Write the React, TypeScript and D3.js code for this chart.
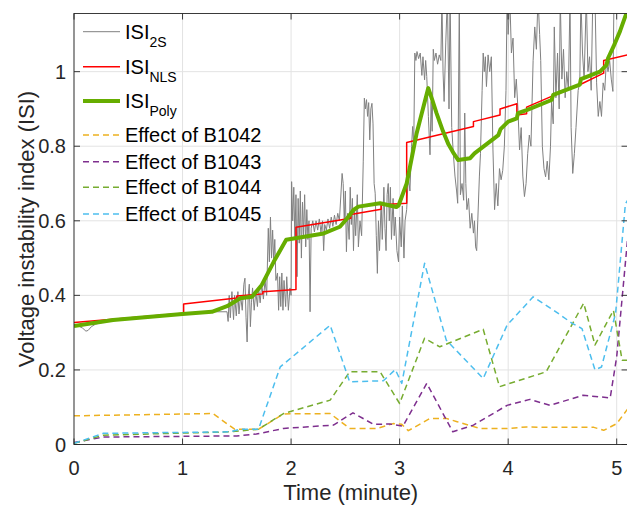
import React from 'react';
import * as d3 from 'd3';

type P = [number, number];

const X_TICKS = [0, 1, 2, 3, 4, 5];
const Y_TICKS = [0, 0.2, 0.4, 0.6, 0.8, 1];
const Y_TICK_LABELS = ['0', '0.2', '0.4', '0.6', '0.8', '1'];

const ISI_2S: P[] = [
  [0, 0.322], [0.04, 0.318], [0.08, 0.312], [0.11, 0.304], [0.13, 0.306], [0.16, 0.316], [0.2, 0.323], [0.3, 0.33],
  [0.5, 0.336], [0.8, 0.344], [1.0, 0.349], [1.2, 0.354], [1.3, 0.356], [1.41, 0.356],
  [1.42, 0.33], [1.43, 0.4], [1.44, 0.34], [1.455, 0.41], [1.47, 0.335], [1.48, 0.4], [1.495, 0.345], [1.51, 0.41],
  [1.52, 0.35], [1.535, 0.4], [1.55, 0.36], [1.565, 0.43], [1.575, 0.446], [1.585, 0.34], [1.595, 0.275], [1.605, 0.4],
  [1.615, 0.43], [1.625, 0.316], [1.635, 0.38],
  [1.645, 0.42], [1.66, 0.36], [1.675, 0.41], [1.69, 0.37], [1.7, 0.42], [1.715, 0.38], [1.73, 0.43], [1.745, 0.39],
  [1.76, 0.44], [1.775, 0.4], [1.79, 0.58], [1.8, 0.49], [1.81, 0.61], [1.82, 0.5], [1.83, 0.575], [1.84, 0.49],
  [1.85, 0.55], [1.86, 0.44],
  [1.875, 0.46], [1.885, 0.36], [1.895, 0.45], [1.905, 0.37], [1.915, 0.46], [1.925, 0.36], [1.935, 0.44], [1.95, 0.37],
  [1.96, 0.45], [1.975, 0.36], [1.99, 0.42], [2.0, 0.4],
  [2.005, 0.705], [2.015, 0.6], [2.025, 0.69], [2.035, 0.55], [2.045, 0.67], [2.055, 0.45], [2.065, 0.66], [2.075, 0.54],
  [2.085, 0.68], [2.095, 0.5], [2.105, 0.65], [2.115, 0.56], [2.125, 0.67], [2.135, 0.53], [2.145, 0.63], [2.155, 0.55],
  [2.165, 0.6], [2.175, 0.356], [2.185, 0.58],
  [2.2, 0.6], [2.215, 0.57], [2.23, 0.6], [2.245, 0.575], [2.26, 0.605], [2.275, 0.57], [2.29, 0.6], [2.3, 0.52],
  [2.31, 0.59], [2.325, 0.575], [2.34, 0.605], [2.355, 0.58], [2.37, 0.61], [2.385, 0.585], [2.4, 0.615], [2.415, 0.59],
  [2.43, 0.62], [2.445, 0.6],
  [2.47, 0.727], [2.48, 0.7], [2.49, 0.6], [2.5, 0.68], [2.51, 0.517], [2.52, 0.62], [2.535, 0.55], [2.545, 0.69],
  [2.555, 0.59], [2.565, 0.66], [2.575, 0.52], [2.585, 0.63], [2.595, 0.56], [2.61, 0.67], [2.62, 0.53], [2.635, 0.6],
  [2.65, 0.56],
  [2.665, 0.76], [2.675, 0.929], [2.685, 0.9], [2.695, 0.925], [2.705, 0.88], [2.715, 0.917], [2.725, 0.817], [2.735, 0.9],
  [2.745, 0.915], [2.755, 0.86], [2.765, 0.7], [2.775, 0.674], [2.785, 0.56], [2.795, 0.459], [2.805, 0.6],
  [2.815, 0.52], [2.83, 0.65], [2.84, 0.55], [2.855, 0.69], [2.865, 0.58], [2.875, 0.52], [2.885, 0.67], [2.895, 0.7],
  [2.905, 0.6], [2.915, 0.69], [2.925, 0.55], [2.94, 0.66], [2.95, 0.56], [2.96, 0.61], [2.975, 0.52], [2.99, 0.49],
  [3.0, 0.61], [3.015, 0.53], [3.025, 0.64], [3.04, 0.5], [3.05, 0.6], [3.065, 0.63],
  [3.08, 0.72], [3.095, 0.68], [3.11, 0.8], [3.12, 0.853], [3.13, 0.8], [3.14, 1.05], [3.15, 1.03], [3.16, 1.054],
  [3.175, 1.035], [3.19, 1.05], [3.205, 0.99], [3.215, 1.04], [3.23, 0.978], [3.24, 1.03], [3.25, 0.987], [3.265, 0.88],
  [3.28, 0.777], [3.29, 0.92], [3.3, 0.84],
  [3.31, 1.06], [3.32, 1.03], [3.335, 1.05], [3.35, 1.02], [3.365, 1.045], [3.38, 1.03], [3.39, 1.2], [3.4, 1.0],
  [3.41, 0.92], [3.425, 1.077], [3.44, 1.2], [3.455, 0.9], [3.465, 1.2], [3.48, 0.85], [3.495, 0.78], [3.51, 0.72],
  [3.525, 0.68], [3.535, 0.647], [3.55, 1.2], [3.56, 0.67],
  [3.575, 0.7], [3.59, 0.655], [3.6, 0.889], [3.61, 0.7], [3.62, 0.63], [3.635, 0.66], [3.65, 0.58], [3.665, 0.62],
  [3.68, 0.567], [3.69, 0.6], [3.7, 0.53], [3.71, 0.52], [3.72, 0.6], [3.735, 0.72], [3.745, 0.78],
  [3.76, 0.95], [3.77, 1.05], [3.78, 1.0], [3.79, 1.04], [3.8, 0.96], [3.815, 1.045], [3.83, 1.0], [3.845, 1.04],
  [3.86, 0.79], [3.875, 0.63], [3.89, 0.7], [3.905, 0.64], [3.92, 0.74], [3.935, 0.71], [3.95, 0.735], [3.965, 0.8],
  [3.98, 0.95],
  [3.99, 1.2], [4.0, 1.1], [4.015, 1.2], [4.03, 1.05], [4.045, 1.09], [4.06, 0.93], [4.075, 0.98], [4.09, 0.9],
  [4.105, 0.79], [4.12, 0.85], [4.135, 0.72], [4.15, 0.665], [4.165, 0.7], [4.18, 0.78], [4.195, 0.83], [4.21, 0.8],
  [4.23, 1.03], [4.245, 1.12], [4.26, 1.06], [4.275, 1.2], [4.29, 1.1], [4.3, 1.03], [4.315, 0.8], [4.33, 0.74],
  [4.345, 0.718], [4.36, 0.76], [4.375, 0.71], [4.39, 0.8], [4.4, 0.92],
  [4.415, 0.86], [4.425, 1.12], [4.44, 0.93], [4.455, 1.05], [4.47, 0.9], [4.48, 1.2], [4.495, 0.98], [4.51, 1.06],
  [4.525, 0.93], [4.54, 1.0], [4.555, 0.95], [4.57, 1.2], [4.58, 0.85], [4.595, 0.727], [4.61, 0.78], [4.625, 0.85],
  [4.645, 0.95], [4.66, 0.97], [4.67, 1.2], [4.685, 1.05], [4.7, 0.98], [4.72, 1.2], [4.735, 1.0], [4.75, 1.04],
  [4.765, 0.95], [4.78, 1.2], [4.8, 1.2], [4.815, 0.97], [4.83, 0.88], [4.845, 0.92], [4.86, 0.88], [4.875, 0.97],
  [4.89, 0.95], [4.905, 1.03], [4.92, 1.0], [4.935, 1.03], [4.95, 0.98], [4.965, 0.947], [4.975, 1.2], [5.0, 1.2],
  [5.05, 1.2], [5.1, 1.2],
];

const ISI_NLS: P[] = [
  [0, 0.327], [1.01, 0.352], [1.01, 0.377], [1.5, 0.393], [1.5, 0.398], [1.74, 0.404], [1.74, 0.41], [2.045, 0.416],
  [2.045, 0.583], [2.55, 0.607], [2.55, 0.617], [2.83, 0.631], [2.83, 0.643], [3.065, 0.647], [3.065, 0.81],
  [3.68, 0.853], [3.68, 0.866], [3.925, 0.884], [3.925, 0.9], [4.08, 0.914], [4.08, 0.884], [4.17, 0.887],
  [4.17, 0.905], [4.41, 0.935], [4.66, 0.965], [4.88, 0.996], [4.88, 1.03], [5.1, 1.045],
];

const ISI_POLY: P[] = [
  [0, 0.318], [0.36, 0.334], [1.0, 0.35], [1.27, 0.356], [1.41, 0.371], [1.48, 0.383], [1.53, 0.392], [1.64, 0.396],
  [1.73, 0.428], [1.84, 0.49], [1.955, 0.549], [2.3, 0.566], [2.45, 0.584], [2.51, 0.604], [2.575, 0.629],
  [2.62, 0.638], [2.82, 0.647], [2.97, 0.637], [2.99, 0.641], [3.065, 0.7], [3.157, 0.835], [3.264, 0.956],
  [3.3, 0.925], [3.34, 0.889], [3.4, 0.84], [3.45, 0.805], [3.5, 0.78], [3.54, 0.763], [3.65, 0.768], [3.69, 0.781],
  [3.91, 0.83], [3.93, 0.846], [4.0, 0.866], [4.08, 0.875], [4.09, 0.889], [4.17, 0.897], [4.4, 0.924], [4.415, 0.938],
  [4.66, 0.965], [4.67, 0.98], [4.846, 1.0], [4.907, 1.018], [4.92, 1.036], [4.97, 1.067], [5.03, 1.108], [5.09, 1.157],
];

const EFFECT_B1042: P[] = [
  [0, 0.077], [1.28, 0.083], [1.48, 0.041], [1.7, 0.041], [1.93, 0.082], [2.36, 0.083], [2.54, 0.043], [2.79, 0.043],
  [2.94, 0.056], [3.02, 0.054], [3.08, 0.037], [3.28, 0.07], [3.43, 0.07], [3.53, 0.061], [3.74, 0.043], [3.99, 0.043],
  [4.17, 0.047], [4.42, 0.046], [4.79, 0.046], [4.88, 0.038], [5.0, 0.056], [5.1, 0.095],
];
const EFFECT_B1043: P[] = [
  [0, 0.005], [0.27, 0.02], [1.5, 0.023], [1.68, 0.028], [1.93, 0.043], [2.39, 0.052], [2.57, 0.085], [2.76, 0.054],
  [2.91, 0.055], [3.03, 0.049], [3.25, 0.164], [3.49, 0.034], [3.68, 0.052], [3.99, 0.105], [4.2, 0.121],
  [4.385, 0.105], [4.69, 0.132], [4.94, 0.125], [5.0, 0.235], [5.1, 0.55],
];
const EFFECT_B1044: P[] = [
  [0, 0.003], [0.27, 0.025], [1.44, 0.034], [1.7, 0.041], [1.93, 0.083], [2.36, 0.119], [2.54, 0.195], [2.82, 0.195],
  [3.0, 0.11], [3.23, 0.285], [3.37, 0.262], [3.77, 0.309], [3.92, 0.155], [4.35, 0.195], [4.696, 0.379],
  [4.8, 0.267], [4.97, 0.36], [5.05, 0.226], [5.1, 0.226],
];
const EFFECT_B1045: P[] = [
  [0, 0.003], [0.27, 0.03], [1.44, 0.034], [1.53, 0.041], [1.7, 0.041], [1.9, 0.208], [2.36, 0.32], [2.54, 0.168],
  [2.85, 0.171], [2.96, 0.201], [3.02, 0.164], [3.23, 0.486], [3.43, 0.28], [3.77, 0.177], [3.99, 0.32], [4.23, 0.396],
  [4.42, 0.36], [4.59, 0.325], [4.68, 0.311], [4.8, 0.2], [4.86, 0.208], [4.99, 0.352], [5.08, 0.645], [5.1, 0.655],
];

const LEGEND_LABELS = ['ISI', 'ISI', 'ISI', 'Effect of B1042', 'Effect of B1043', 'Effect of B1044', 'Effect of B1045'];
const LEGEND_SUBS = ['2S', 'NLS', 'Poly', '', '', '', ''];

const FONT = '"Liberation Sans", Arial, Helvetica, sans-serif';

export default function App() {
  const W = 627, H = 508;
  const left = 74, top = 13.5, bottom = 444.5;
  const right = 74 + 5.1 * 108.54;
  const x = d3.scaleLinear().domain([0, 5.1]).range([left, right]);
  const y = d3.scaleLinear().domain([0, 1.156]).range([bottom, top]);
  const line = d3.line<P>().x(d => x(d[0])).y(d => y(d[1]));

  const series = [
    { data: ISI_2S, color: '#808080', width: 1, dash: undefined as string | undefined },
    { data: ISI_NLS, color: '#ff0000', width: 1.5, dash: undefined },
    { data: ISI_POLY, color: '#66ad00', width: 4, dash: undefined },
    { data: EFFECT_B1042, color: '#EDB120', width: 1.5, dash: '6,4' },
    { data: EFFECT_B1043, color: '#7E2F8E', width: 1.5, dash: '6,4' },
    { data: EFFECT_B1044, color: '#77AC30', width: 1.5, dash: '6,4' },
    { data: EFFECT_B1045, color: '#4DBEEE', width: 1.5, dash: '6,4' },
  ];
  const legendY = [31.7, 66.7, 101, 135, 161.7, 187.3, 214];
  const tickLen = 6;
  const axisColor = '#262626';

  return (
    <div style={{ position: 'absolute', left: 0, top: 0, width: W, height: H, background: '#fff' }}>
      <svg width={W} height={H} style={{ display: 'block', fontFamily: FONT }}>
        <defs>
          <clipPath id="plot">
            <rect x={left} y={top} width={right - left} height={bottom - top} />
          </clipPath>
        </defs>
        <rect x={0} y={0} width={W} height={H} fill="#fff" />
        {X_TICKS.map(t => (
          <line key={'gx' + t} x1={x(t)} x2={x(t)} y1={top} y2={bottom} stroke="#e3e3e3" strokeWidth={1} />
        ))}
        {Y_TICKS.map(t => (
          <line key={'gy' + t} x1={left} x2={right} y1={y(t)} y2={y(t)} stroke="#e3e3e3" strokeWidth={1} />
        ))}
        <g clipPath="url(#plot)">
          {series.map((s, i) => (
            <path key={i} d={line(s.data) || ''} fill="none" stroke={s.color} strokeWidth={s.width}
              strokeDasharray={s.dash} strokeLinejoin="round" />
          ))}
        </g>
        <rect x={left} y={top} width={right - left} height={bottom - top} fill="none" stroke={axisColor} strokeWidth={0.9} />
        {X_TICKS.map(t => (
          <g key={'tx' + t}>
            <line x1={x(t)} x2={x(t)} y1={bottom} y2={bottom - tickLen} stroke={axisColor} strokeWidth={0.9} />
            <line x1={x(t)} x2={x(t)} y1={top} y2={top + tickLen} stroke={axisColor} strokeWidth={0.9} />
            <text x={x(t)} y={475} textAnchor="middle" fontSize={20} fill="#262626">{t}</text>
          </g>
        ))}
        {Y_TICKS.map((t, i) => (
          <g key={'ty' + t}>
            <line x1={left} x2={left + tickLen} y1={y(t)} y2={y(t)} stroke={axisColor} strokeWidth={0.9} />
            <line x1={right} x2={right - tickLen} y1={y(t)} y2={y(t)} stroke={axisColor} strokeWidth={0.9} />
            <text x={66} y={y(t) + 7} textAnchor="end" fontSize={20} fill="#262626">{Y_TICK_LABELS[i]}</text>
          </g>
        ))}
        <text x={(left + right) / 2} y={500} textAnchor="middle" fontSize={22} fill="#262626">Time (minute)</text>
        <text transform={`translate(34, ${(top + bottom) / 2}) rotate(-90)`} textAnchor="middle" fontSize={22} fill="#262626">
          Voltage instability index (ISI)
        </text>
        {series.map((s, i) => (
          <g key={'lg' + i}>
            <line x1={83} x2={120} y1={legendY[i]} y2={legendY[i]} stroke={s.color} strokeWidth={s.width}
              strokeDasharray={s.dash} />
            <text x={125} y={legendY[i] + 7} fontSize={20} fill="#000">
              {LEGEND_LABELS[i]}
              {LEGEND_SUBS[i] ? (
                <tspan dy={8} fontSize={14}>{LEGEND_SUBS[i]}</tspan>
              ) : null}
            </text>
          </g>
        ))}
      </svg>
    </div>
  );
}
